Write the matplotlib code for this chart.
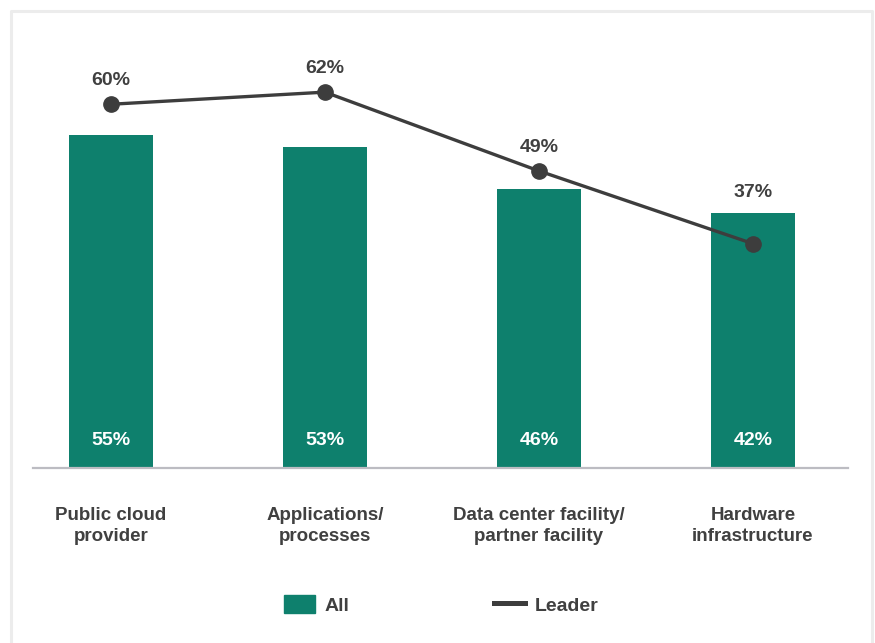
import matplotlib.pyplot as plt
from matplotlib.patches import Patch
from matplotlib.lines import Line2D

plt.rcParams['font.family'] = ['Liberation Sans', 'DejaVu Sans']

categories = ["Public cloud\nprovider", "Applications/\nprocesses",
              "Data center facility/\npartner facility", "Hardware\ninfrastructure"]
all_values = [55, 53, 46, 42]
leader_values = [60, 62, 49, 37]

BAR = "#0e806d"
DARK = "#404040"

W, H = 875, 643
fig = plt.figure(figsize=(W / 100, H / 100), dpi=100)
ax = fig.add_axes([33 / W, (H - 468) / H, (848 - 33) / W, 428 / H])

x = list(range(len(categories)))
ax.bar(x, all_values, width=0.393, color=BAR, zorder=2)
ax.plot(x, leader_values, color="#3d3d3d", lw=2.4, marker="o", ms=11,
        zorder=3)

for i, (a, l) in enumerate(zip(all_values, leader_values)):
    ax.annotate(f"{a}%", (i, 0), xytext=(0, 20), textcoords="offset points",
                ha="center", va="center", color="white", fontsize=14,
                fontweight="bold")
    ax.annotate(f"{l}%", (i, max(a, l)), xytext=(0, 17 if l > a else 15),
                textcoords="offset points", ha="center", va="center",
                color=DARK, fontsize=14, fontweight="bold")

ax.set_xlim(-0.364, 3.444)
ax.set_ylim(0, 70.6)
ax.set_yticks([])
ax.set_xticks(x, categories)
ax.tick_params(axis="x", length=0, pad=28, labelsize=13.5, labelcolor=DARK)
for t in ax.get_xticklabels():
    t.set_fontweight("bold")
    t.set_linespacing(1.3)
for s in ["top", "right", "left"]:
    ax.spines[s].set_visible(False)
ax.spines["bottom"].set_color("#bcbcc2")
ax.spines["bottom"].set_linewidth(1.6)

handles = [Patch(color=BAR), Line2D([], [], color="#3d3d3d", lw=3.6)]
leg = fig.legend(handles, ["All", "Leader"], loc="center", ncol=2,
                 bbox_to_anchor=(441 / W, 1 - 605 / H), frameon=False,
                 handlelength=1.6, handleheight=1.0, handletextpad=0.5,
                 columnspacing=7.4, prop={"size": 14, "weight": "bold"})
for t in leg.get_texts():
    t.set_color(DARK)

# light frame around the chart, open at the bottom
fx = [10.5 / W, 10.5 / W, 871.5 / W, 871.5 / W]
fy = [0, 1 - 10.5 / H, 1 - 10.5 / H, 0]
fig.add_artist(Line2D(fx, fy, transform=fig.transFigure, color="#ececec",
                      lw=2.2))

fig.savefig("out.png", dpi=100)
